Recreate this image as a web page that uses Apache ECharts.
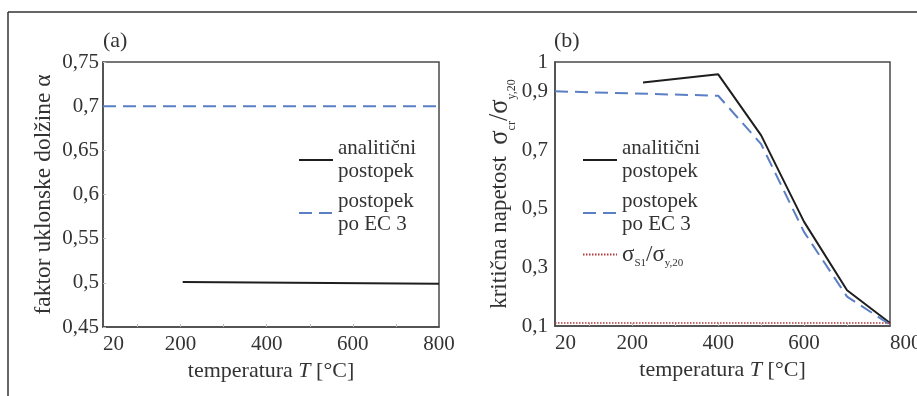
<!DOCTYPE html>
<html>
<head>
<meta charset="utf-8">
<script src="https://cdn.jsdelivr.net/npm/echarts@6/dist/echarts.min.js"></script>
<style>
html,body{margin:0;padding:0;background:#fff;}
#c{width:917px;height:396px;}
</style>
</head>
<body>
<div id="c"></div>
<script>
// ---------- data ----------
// panel (a): buckling length factor alpha
const tempA_an = [205, 800];
const alphaA_an = [0.501, 0.499];
const tempA_ec = [20, 800];
const alphaA_ec = [0.7, 0.7];

// panel (b): critical stress ratio
const tempB_an = [225, 400, 500, 600, 700, 800];
const sigB_an = [0.93, 0.958, 0.75, 0.455, 0.222, 0.11];
const tempB_ec = [20, 400, 500, 600, 700, 800];
const sigB_ec = [0.90, 0.885, 0.72, 0.42, 0.20, 0.105];
const tempB_s1 = [20, 800];
const sigB_s1 = [0.11, 0.11];

// tick labels
const xTickVals = [20, 200, 400, 600, 800];
const xTickLabels = ['20', '200', '400', '600', '800'];
const xTickMarks = [100, 200, 300, 400, 500, 600, 700];
const yTickValsA = [0.45, 0.5, 0.55, 0.6, 0.65, 0.7, 0.75];
const yTickLabelsA = ['0,45', '0,5', '0,55', '0,6', '0,65', '0,7', '0,75'];
const yTickValsB = [0.1, 0.3, 0.5, 0.7, 0.9, 1];
const yTickLabelsB = ['0,1', '0,3', '0,5', '0,7', '0,9', '1'];

const nameAn = 'analitični\npostopek';
const nameEc = 'postopek\npo EC 3';
const nameS1 = 'σS1/σy,20';

// ---------- helpers ----------
function pairs(xs, ys) { return xs.map((x, i) => [x, ys[i]]); }
function lookup(vals, labels) {
  return function (v) {
    for (let i = 0; i < vals.length; i++) if (Math.abs(vals[i] - v) < 1e-6) return labels[i];
    return '';
  };
}
const FONT = 'Liberation Serif';
const TXT = '#333';
const BOX = '#4a4a4a';

function xAxis(gi, maxAlign) {
  return {
    gridIndex: gi, type: 'value', min: 20, max: 800,
    axisLine: { show: true, lineStyle: { color: BOX, width: 1.5 } },
    axisTick: { show: true, inside: true, length: 3, customValues: xTickMarks, lineStyle: { color: '#bbb' } },
    splitLine: { show: false },
    axisLabel: {
      customValues: xTickVals,
      formatter: lookup(xTickVals, xTickLabels), color: TXT, fontFamily: FONT, fontSize: 21,
      margin: 7, alignMinLabel: 'left', alignMaxLabel: maxAlign
    },
    name: 'temperatura {i|T} [°C]', nameLocation: 'middle', nameGap: 23,
    nameTextStyle: { color: TXT, fontFamily: FONT, fontSize: 22,
      rich: { i: { fontStyle: 'italic', fontFamily: FONT, fontSize: 22, color: TXT } } }
  };
}

const option = {
  backgroundColor: '#fff',
  animation: false,
  graphic: [
    { type: 'line', shape: { x1: 8, y1: 12, x2: 917, y2: 12 }, style: { stroke: '#333', lineWidth: 1.5 } },
    { type: 'line', shape: { x1: 8, y1: 12, x2: 8, y2: 396 }, style: { stroke: '#333', lineWidth: 1.5 } }
  ],
  title: [
    { text: '(a)', left: 103, top: 30, padding: 0, textStyle: { color: TXT, fontFamily: FONT, fontSize: 22, fontWeight: 'normal' } },
    { text: '(b)', left: 554, top: 30, padding: 0, textStyle: { color: TXT, fontFamily: FONT, fontSize: 22, fontWeight: 'normal' } }
  ],
  grid: [
    { left: 103, top: 62, width: 336, height: 265, show: true, borderColor: BOX, borderWidth: 1.5, backgroundColor: 'transparent',
      containLabel: false, outerBoundsMode: 'none' },
    { left: 555, top: 62, width: 335, height: 264, show: true, borderColor: BOX, borderWidth: 1.5, backgroundColor: 'transparent',
      containLabel: false, outerBoundsMode: 'none' }
  ],
  xAxis: [ xAxis(0, 'center'), xAxis(1, 'left') ],
  yAxis: [
    {
      gridIndex: 0, type: 'value', min: 0.45, max: 0.75, interval: 0.05,
      axisLine: { show: true, lineStyle: { color: BOX, width: 1.5 } },
      axisTick: { show: true, inside: true, length: 3, lineStyle: { color: '#bbb' } },
      splitLine: { show: false },
      axisLabel: { customValues: yTickValsA, formatter: lookup(yTickValsA, yTickLabelsA), color: TXT, fontFamily: FONT, fontSize: 21, margin: 4 },
      name: 'faktor uklonske dolžine α', nameLocation: 'middle', nameGap: 47, nameRotate: 90,
      nameTextStyle: { color: TXT, fontFamily: FONT, fontSize: 23.5 }
    },
    {
      gridIndex: 1, type: 'value', min: 0.1, max: 1,
      axisLine: { show: true, lineStyle: { color: BOX, width: 1.5 } },
      axisTick: { show: false },
      splitLine: { show: false },
      axisLabel: { customValues: yTickValsB, formatter: lookup(yTickValsB, yTickLabelsB), color: TXT, fontFamily: FONT, fontSize: 21, margin: 7 },
      name: 'kritična napetost  {s|σ}{sub|cr}{s|/σ}{sub|y,20}', nameLocation: 'middle', nameGap: 36, nameRotate: 90,
      nameTextStyle: {
        color: TXT, fontFamily: FONT, fontSize: 23,
        rich: {
          s: { fontFamily: FONT, fontSize: 26.5, color: TXT },
          sub: { fontFamily: FONT, fontSize: 12, color: TXT, verticalAlign: 'bottom', padding: [0, 0, -4, 0] }
        }
      }
    }
  ],
  legend: [
    {
      data: [nameAn, nameEc], orient: 'vertical', left: 298, top: 137, padding: 0,
      itemWidth: 34, itemHeight: 12, itemGap: 7, selectedMode: false,
      itemStyle: { opacity: 0, borderWidth: 0 },
      textStyle: { color: TXT, fontFamily: FONT, fontSize: 21, lineHeight: 23 }
    },
    {
      data: [nameAn, nameEc, nameS1], orient: 'vertical', left: 582, top: 137, padding: 0,
      itemWidth: 34, itemHeight: 12, itemGap: 7, selectedMode: false,
      itemStyle: { opacity: 0, borderWidth: 0 },
      formatter: function (n) { return n === nameS1 ? '{g|σ}{sub|S1}{g|/σ}{sub|y,20}' : n; },
      textStyle: {
        color: TXT, fontFamily: FONT, fontSize: 21, lineHeight: 23,
        rich: {
          g: { fontFamily: FONT, fontSize: 23, color: TXT },
          sub: { fontFamily: FONT, fontSize: 11, color: TXT, verticalAlign: 'bottom', padding: [0, 0, -3, 0] }
        }
      }
    }
  ],
  series: [
    { name: nameAn, type: 'line', xAxisIndex: 0, yAxisIndex: 0, data: pairs(tempA_an, alphaA_an), symbol: 'none',
      lineStyle: { color: '#1e1e1e', width: 2 }, itemStyle: { color: '#1e1e1e' } },
    { name: nameEc, type: 'line', xAxisIndex: 0, yAxisIndex: 0, data: pairs(tempA_ec, alphaA_ec), symbol: 'none',
      lineStyle: { color: '#5b7fc4', width: 2, type: [13, 7] }, itemStyle: { color: '#5b7fc4' } },
    { name: nameAn, type: 'line', xAxisIndex: 1, yAxisIndex: 1, data: pairs(tempB_an, sigB_an), symbol: 'none',
      lineStyle: { color: '#1e1e1e', width: 2 }, itemStyle: { color: '#1e1e1e' } },
    { name: nameEc, type: 'line', xAxisIndex: 1, yAxisIndex: 1, data: pairs(tempB_ec, sigB_ec), symbol: 'none',
      lineStyle: { color: '#5b7fc4', width: 2, type: [13, 7] }, itemStyle: { color: '#5b7fc4' } },
    { name: nameS1, type: 'line', xAxisIndex: 1, yAxisIndex: 1, data: pairs(tempB_s1, sigB_s1), symbol: 'none',
      lineStyle: { color: '#b23a3a', width: 1.5, type: [1.5, 1.5] }, itemStyle: { color: '#b23a3a' } }
  ]
};

const chart = echarts.init(document.getElementById('c'), null, { renderer: 'canvas' });
chart.setOption(option);
</script>
</body>
</html>
